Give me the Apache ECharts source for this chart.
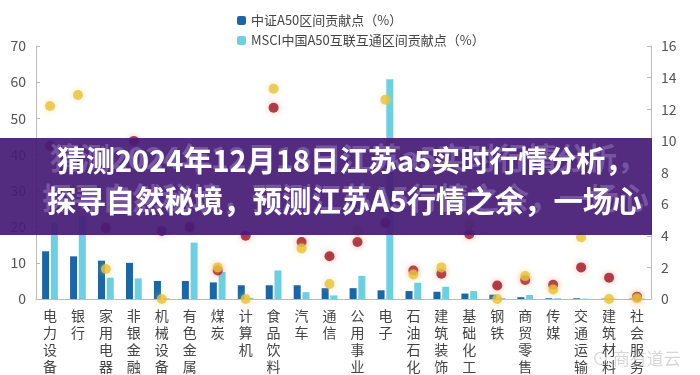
<!DOCTYPE html>
<html>
<head>
<meta charset="utf-8">
<script src="https://cdn.jsdelivr.net/npm/echarts@6/dist/echarts.min.js"></script>
<style>html,body{margin:0;padding:0;background:#fff;}#c{width:700px;height:375px;}</style>
</head>
<body>
<div id="c"></div>
<script>
const categories = ['电力设备','银行','家用电器','非银金融','机械设备','有色金属','煤炭','计算机','食品饮料','汽车','通信','公用事业','电子','石油石化','建筑装饰','基础化工','钢铁','商贸零售','传媒','交通运输','建筑材料','社会服务'];
const csiA50 = [13.2, 11.8, 10.6, 10.0, 5.0, 5.0, 4.6, 3.8, 3.8, 3.8, 3.0, 3.0, 2.4, 2.2, 2.0, 1.5, 1.2, 0.5, 0.2, 0.2, 0.1, 0.1];
const msciA50 = [21.0, 23.0, 5.9, 5.7, 0.2, 15.6, 7.5, 0.3, 7.9, 1.9, 1.0, 6.4, 60.8, 4.5, 3.4, 2.2, 0.3, 1.1, 0.2, 0.1, 0.1, 0.1];
const redDots = [9.7, 8.8, 4.5, 10.0, 4.3, 4.55, 1.8, 4.0, 12.1, 3.6, 2.7, 3.6, 4.8, 1.8, 1.6, 4.1, 0.85, 1.2, 0.9, 2.0, 1.35, 0.15];
const yellowDots = [12.2, 12.9, 1.9, 6.3, 0.0, 6.3, 2.0, 0.0, 13.3, 3.2, 0.95, 4.3, 12.6, 1.55, 2.0, 4.7, 0.0, 1.45, 0.6, 3.9, 0.0, 0.05];
const leftTicks = {min: 0, max: 70, interval: 10};
const rightTicks = {min: 0, max: 16, interval: 2};
const seriesNames = ['中证A50区间贡献点（%）', 'MSCI中国A50互联互通区间贡献点（%）'];
const titleLines = ['猜测2024年12月18日江苏a5实时行情分析，', '探寻自然秘境，预测江苏A5行情之余，一场心'];
const watermark = '⊙ 商有道云';

const font = '"Noto Sans CJK SC", "Noto Sans", sans-serif';
const chart = echarts.init(document.getElementById('c'));
chart.setOption({
  animation: false,
  textStyle: {fontFamily: font},
  legend: {
    data: seriesNames,
    orient: 'vertical',
    left: 232, top: 9,
    itemWidth: 9, itemHeight: 9, itemGap: 7,
    textStyle: {fontSize: 13, color: '#444', fontFamily: font}
  },
  grid: {left: 36, right: 49, top: 46, bottom: 69},
  xAxis: {
    type: 'category',
    data: categories,
    axisLine: {lineStyle: {color: '#bbb'}},
    axisTick: {show: false},
    axisLabel: {
      interval: 0, fontSize: 14, lineHeight: 17, color: '#444', margin: 8,
      formatter: v => v.split('').join('\n')
    }
  },
  yAxis: [
    {type: 'value', min: leftTicks.min, max: leftTicks.max, interval: leftTicks.interval,
     splitLine: {show: false},
     axisLine: {show: true, lineStyle: {color: '#bbb'}},
     axisTick: {show: true, inside: true, length: 4, lineStyle: {color: '#bbb'}},
     axisLabel: {fontSize: 14, color: '#555', margin: 10}},
    {type: 'value', min: rightTicks.min, max: rightTicks.max, interval: rightTicks.interval,
     splitLine: {show: false},
     axisLine: {show: true, lineStyle: {color: '#bbb'}},
     axisTick: {show: true, inside: true, length: 4, lineStyle: {color: '#bbb'}},
     axisLabel: {fontSize: 14, color: '#555', margin: 10}}
  ],
  series: [
    {name: seriesNames[0], type: 'bar', data: csiA50, barWidth: 7, barGap: '25%',
     itemStyle: {color: '#1b66a3'}},
    {name: seriesNames[1], type: 'bar', data: msciA50, barWidth: 7,
     itemStyle: {color: '#6fcfe1'}},
    {name: 'red', type: 'scatter', yAxisIndex: 1, data: redDots, symbolSize: 10, z: 5,
     itemStyle: {color: '#9b1622', shadowBlur: 6, shadowColor: 'rgba(230,80,80,0.55)'}},
    {name: 'yellow', type: 'scatter', yAxisIndex: 1, data: yellowDots, symbolSize: 10, z: 6,
     itemStyle: {color: '#e8c23c', shadowBlur: 6, shadowColor: 'rgba(240,200,80,0.6)'}}
  ],
  graphic: [
    {type: 'rect', z: 100, shape: {x: 0, y: 138, width: 652, height: 97},
     style: {fill: 'rgba(70,28,118,0.93)'}},
    {type: 'text', z: 101, left: 50, top: 143,
     style: {text: titleLines[0], fill: 'rgba(170,145,210,0.4)', font: 'bold 30px ' + font}},
    {type: 'text', z: 101, left: 42, top: 183,
     style: {text: titleLines[1], fill: 'rgba(170,145,210,0.4)', font: 'bold 30px ' + font}},
    {type: 'text', z: 102, left: 57, top: 146,
     style: {text: titleLines[0], fill: '#ffffff', font: 'bold 29px ' + font}},
    {type: 'text', z: 102, left: 47, top: 186,
     style: {text: titleLines[1], fill: '#ffffff', font: 'bold 29.4px ' + font}},
    {type: 'text', z: 103, left: 592, top: 350,
     style: {text: watermark, fill: 'rgba(140,140,140,0.35)', font: '17px ' + font}}
  ]
});
</script>
</body>
</html>
